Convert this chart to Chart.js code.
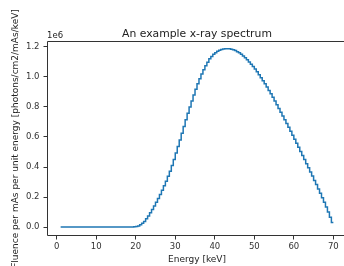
<!DOCTYPE html>
<html>
<head>
<meta charset="utf-8">
<script src="https://cdn.jsdelivr.net/npm/chart.js@4/dist/chart.umd.min.js"></script>
<style>
  html, body { margin: 0; padding: 0; background: #fff; width: 344px; height: 266px; overflow: hidden; }
  #wrap { width: 344px; height: 266px; overflow: hidden; position: relative; }
  canvas { position: absolute; left: 0; top: 0; }
</style>
</head>
<body>
<div id="wrap"><canvas id="c" width="350" height="266"></canvas></div>
<script>
// Energy bins [keV]
const energies = [
  1,1.5,2,2.5,3,3.5,4,4.5,5,5.5,6,6.5,7,7.5,8,8.5,9,9.5,10,10.5,
  11,11.5,12,12.5,13,13.5,14,14.5,15,15.5,16,16.5,17,17.5,18,18.5,19,19.5,20,20.5,
  21,21.5,22,22.5,23,23.5,24,24.5,25,25.5,26,26.5,27,27.5,28,28.5,29,29.5,30,30.5,
  31,31.5,32,32.5,33,33.5,34,34.5,35,35.5,36,36.5,37,37.5,38,38.5,39,39.5,40,40.5,
  41,41.5,42,42.5,43,43.5,44,44.5,45,45.5,46,46.5,47,47.5,48,48.5,49,49.5,50,50.5,
  51,51.5,52,52.5,53,53.5,54,54.5,55,55.5,56,56.5,57,57.5,58,58.5,59,59.5,60,60.5,
  61,61.5,62,62.5,63,63.5,64,64.5,65,65.5,66,66.5,67,67.5,68,68.5,69,69.5,70];
// Fluence per mAs per unit energy [photons/cm2/mAs/keV]
const fluence = [
  0,0,0,0,0,0,0,0,0,0,0,0,0,0,0,0,0,0,0,0,
  0,0,0,0,0,0,0,0,0,0,0,0,0,0,0,0,0,0,2000,4000,
  8000,15000,25000,38000,55000,74000,95000,117000,140000,165000,
  190000,217000,245000,275000,305000,338000,372000,410000,450000,493000,
  537000,580000,625000,670000,715000,758000,800000,840000,880000,918000,
  955000,988000,1020000,1048000,1075000,1098000,1120000,1136000,1150000,1161000,
  1170000,1177000,1182000,1185000,1187000,1188000,1187000,1184000,1180000,1175000,
  1168000,1160000,1150000,1139000,1127000,1114000,1100000,1085000,1070000,1053000,
  1035000,1015000,995000,975000,955000,933000,910000,888000,865000,840000,
  815000,790000,765000,740000,715000,690000,665000,638000,612000,585000,
  558000,531000,504000,477000,450000,422000,395000,367000,340000,311000,
  283000,254000,225000,195000,165000,133000,100000,65000,30000];
const xTicks = [0,10,20,30,40,50,60,70];
const yTicks = [0,200000,400000,600000,800000,1000000,1200000];
const yTickLabels = ["0.0","0.2","0.4","0.6","0.8","1.0","1.2"];
const titleText = "An example x-ray spectrum";
const xLabel = "Energy [keV]";
const yLabel = "Fluence per mAs per unit energy [photons/cm2/mAs/keV]";
const offsetText = "1e6";

const FONT = "DejaVu Sans";

const framePlugin = {
  id: 'frame',
  afterDraw(chart) {
    const ctx = chart.ctx;
    const a = chart.chartArea;
    const L = Math.round(a.left) + 0.5, T = Math.round(a.top) + 0.5;
    const R = Math.round(a.right) - 0.5, B = Math.round(a.bottom) - 0.5;
    ctx.save();
    ctx.strokeStyle = '#333';
    ctx.lineWidth = 1;
    ctx.beginPath();
    ctx.moveTo(R, T); ctx.lineTo(L, T); ctx.lineTo(L, B); ctx.lineTo(R, B);
    ctx.stroke();
    ctx.fillStyle = '#222';
    // title
    ctx.font = '10.8px "' + FONT + '"';
    ctx.textAlign = 'center';
    ctx.textBaseline = 'alphabetic';
    ctx.fillText(titleText, (a.left + a.right) / 2, 36.5);
    // offset text
    ctx.font = '8.5px "' + FONT + '"';
    ctx.textAlign = 'left';
    ctx.fillText(offsetText, a.left, 38);
    // x label
    ctx.font = '9px "' + FONT + '"';
    ctx.textAlign = 'center';
    ctx.fillText(xLabel, (a.left + a.right) / 2, 261.5);
    // y label
    ctx.translate(17.5, (a.top + a.bottom) / 2);
    ctx.rotate(-Math.PI / 2);
    ctx.textAlign = 'center';
    ctx.fillText(yLabel, 0, 0);
    ctx.restore();
  }
};

new Chart(document.getElementById('c'), {
  type: 'line',
  data: {
    datasets: [{
      data: energies.map((e, i) => ({x: e, y: fluence[i]})),
      borderColor: '#1f77b4',
      borderWidth: 1.5,
      pointRadius: 0,
      fill: false,
      stepped: 'after',
      tension: 0
    }]
  },
  options: {
    responsive: false,
    devicePixelRatio: 1,
    animation: false,
    layout: { padding: { left: 0, right: 3, top: 41, bottom: 0 } },
    plugins: { legend: { display: false }, title: { display: false }, tooltip: { enabled: false } },
    scales: {
      x: {
        type: 'linear',
        min: -2.45,
        max: 73.45,
        afterBuildTicks(scale) { scale.ticks = xTicks.map(v => ({value: v})); },
        afterFit(scale) { scale.height = 30; },
        border: { display: false },
        grid: { display: true, drawOnChartArea: false, drawTicks: true, tickLength: 3.5, tickColor: '#333' },
        ticks: { color: '#333', padding: 2, maxRotation: 0, autoSkip: false,
                 font: { family: FONT, size: 8.5 },
                 callback: (v) => String(v) }
      },
      y: {
        type: 'linear',
        min: -59300,
        max: 1239000,
        afterBuildTicks(scale) { scale.ticks = yTicks.map(v => ({value: v})); },
        afterFit(scale) { scale.width = 47; },
        border: { display: false },
        grid: { display: true, drawOnChartArea: false, drawTicks: true, tickLength: 3.5, tickColor: '#333' },
        ticks: { color: '#333', padding: 4, autoSkip: false,
                 font: { family: FONT, size: 8.5 },
                 callback: (v) => { const i = yTicks.indexOf(v); return i >= 0 ? yTickLabels[i] : ''; } }
      }
    }
  },
  plugins: [framePlugin]
});
</script>
</body>
</html>
